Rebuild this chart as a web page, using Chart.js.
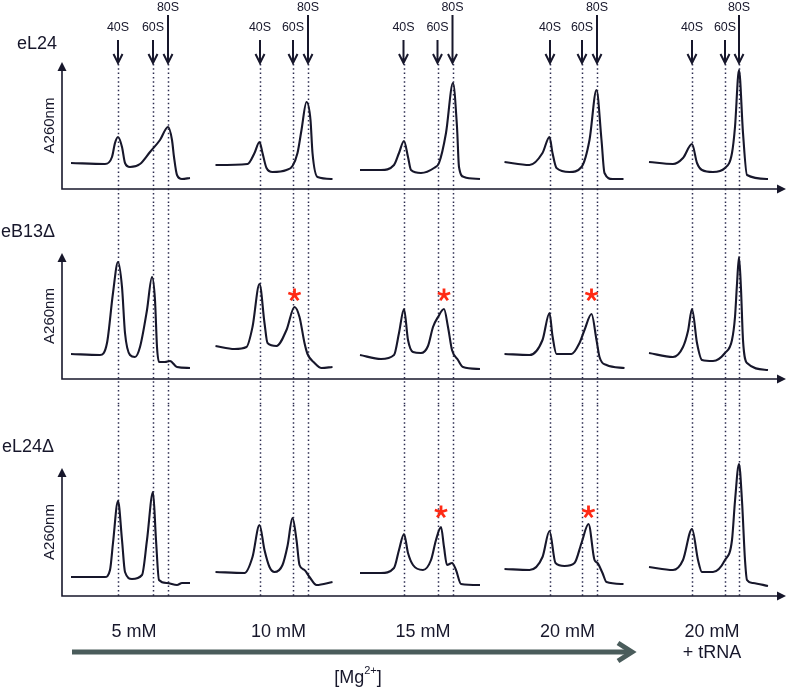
<!DOCTYPE html>
<html>
<head>
<meta charset="utf-8">
<script src="https://cdn.jsdelivr.net/npm/chart.js@4"></script>
<style>
  body { margin: 0; background: #fff; width: 787px; height: 689px; position: relative; overflow: hidden; }
  canvas { position: absolute; left: 0; }
</style>
</head>
<body>
<canvas id="row0" width="787" height="205" style="top:0"></canvas>
<canvas id="row1" width="787" height="200" style="top:205px"></canvas>
<canvas id="row2" width="787" height="284" style="top:405px"></canvas>
<script>
// strains (rows) and Mg conditions (columns)
const strains = ['eL24', 'eB13Δ', 'eL24Δ'];
const conditions = ['5 mM', '10 mM', '15 mM', '20 mM', '20 mM|+ tRNA'];
const subunits = ['40S', '60S', '80S'];

// peak positions in each gradient (position along the gradient)
const pos40S = [47, 44.5, 43.5, 45.5, 43];
const pos60S = [82, 77.5, 77.5, 77.5, 76];
const pos80S = [97, 92.5, 92.5, 92.5, 90];

// A260 profiles: [position, absorbance]
const eL24_5 = [[0,26],[34,25],[41,32],[44,46],[47,52],[51,42],[54,26],[59,22],[69,25],[79,37],[89,49],[97,62],[101,49],[103,32],[106,14],[111,10],[119,11]];
const eL24_10 = [[0,24],[32,25],[39,36],[44,47],[47,36],[51,21],[57,17],[71,19],[77,23],[82,36],[86,59],[91,87],[95,69],[97,36],[102,12],[117,10]];
const eL24_15 = [[0,19],[21,19],[34,24],[39,36],[44,48],[48,32],[51,19],[61,16],[74,21],[79,26],[86,56],[93,106],[97,62],[99,22],[104,12],[120,10]];
const eL24_20 = [[0,27],[25,24],[38,36],[45,52],[48,36],[52,21],[65,17],[77,22],[85,49],[92,99],[97,49],[100,16],[108,10],[119,10]];
const eL24_tRNA = [[0,27],[24,25],[34,31],[43,45],[48,26],[53,19],[64,17],[76,21],[83,36],[86,62],[90,119],[94,56],[98,14],[119,10]];

const eB13d_5 = [[0,25],[29,24],[36,36],[42,86],[47,117],[51,92],[54,46],[59,24],[64,22],[69,32],[76,69],[81,102],[84,79],[86,32],[88,17],[94,17],[99,18],[106,12],[119,11]];
const eB13d_10 = [[0,33],[19,30],[31,32],[37,52],[44,95],[49,56],[52,36],[61,33],[71,49],[79,72],[84,62],[89,36],[92,25],[99,16],[106,11],[117,12]];
const eB13d_15 = [[0,24],[21,20],[34,24],[39,46],[44,70],[48,39],[53,27],[61,26],[68,33],[73,52],[78,62],[84,70],[88,52],[92,29],[98,19],[103,12],[120,10]];
const eB13d_20 = [[0,25],[25,24],[38,39],[45,66],[48,43],[52,25],[67,25],[75,36],[80,49],[87,65],[92,39],[95,22],[102,14],[120,11]];
const eB13d_tRNA = [[0,26],[24,22],[34,32],[39,48],[43,70],[48,36],[53,19],[64,18],[76,26],[83,39],[86,62],[88,95],[90,122],[92,90],[94,39],[98,16],[119,9]];

const eL24d_5 = [[0,19],[34,19],[39,26],[42,53],[47,95],[51,56],[54,24],[61,17],[71,21],[76,56],[82,104],[85,56],[88,16],[96,13],[106,11],[111,13],[119,13]];
const eL24d_10 = [[0,24],[29,23],[37,39],[44,71],[49,46],[54,29],[59,24],[67,31],[72,50],[77,78],[81,56],[84,31],[89,26],[94,19],[101,11],[117,14]];
const eL24d_15 = [[0,23],[21,23],[34,28],[39,46],[44,62],[48,43],[53,31],[63,26],[71,36],[76,56],[81,69],[84,49],[87,31],[92,33],[96,26],[101,12],[120,11]];
const eL24d_20 = [[0,27],[25,26],[38,39],[45,65],[51,33],[60,30],[70,33],[77,53],[84,72],[90,36],[93,33],[98,23],[102,14],[119,12]];
const eL24d_tRNA = [[0,29],[24,26],[34,36],[43,67],[49,36],[53,24],[64,24],[76,36],[83,56],[86,95],[90,132],[93,95],[96,36],[98,16],[104,13],[119,10]];

const profiles = [
  [eL24_5, eL24_10, eL24_15, eL24_20, eL24_tRNA],
  [eB13d_5, eB13d_10, eB13d_15, eB13d_20, eB13d_tRNA],
  [eL24d_5, eL24d_10, eL24d_15, eL24d_20, eL24d_tRNA]
];
// columns where the 60S/80S peak is marked with an asterisk
const starred = [[], [1, 2, 3], [2, 3]];

// layout
const PANEL = 144.5, OFFSET = 9;
const rowLayout = [
  { top: 62, bottom: 16, height: 127, title: 49, titleX: 17 },
  { top: 48, bottom: 26, height: 126, title: 32, titleX: 1 },
  { top: 63, bottom: 93, height: 128, title: 47, titleX: 2 }
];
const INK = '#17172b';
const FONT = '"Liberation Sans", Arial, sans-serif';

function gx(col, x) { return OFFSET + col * PANEL + x; }

function drawStar(ctx, x, y) {
  ctx.save();
  ctx.strokeStyle = '#ff2a14';
  ctx.lineWidth = 2.8;
  ctx.beginPath();
  for (let k = 0; k < 5; k++) {
    const a = -Math.PI / 2 + k * 2 * Math.PI / 5;
    ctx.moveTo(x, y);
    ctx.lineTo(x + 6.5 * Math.cos(a), y + 6.5 * Math.sin(a));
  }
  ctx.stroke();
  ctx.restore();
}

// highest point after the 40S peak
function secondPeak(r, c) {
  return profiles[r][c].filter(p => p[0] > pos40S[c] + 10).reduce((m, p) => (p[1] > m[1] ? p : m));
}

const decor = {
  id: 'decor',
  beforeDatasetsDraw(chart, args, opts) {
    const { ctx, chartArea: a, scales: { x } } = chart;
    const r = opts.row;
    // dotted guide lines at 40S / 60S / 80S
    ctx.save();
    ctx.strokeStyle = '#2c2c50';
    ctx.lineWidth = 1.5;
    ctx.setLineDash([1.5, 2.8]);
    const y0 = r === 0 ? a.top + 2 : 0;
    const y1 = r === 2 ? a.bottom : chart.height;
    [pos40S, pos60S, pos80S].forEach(pos => pos.forEach((p, c) => {
      const xp = Math.round(x.getPixelForValue(gx(c, p))) + 0.5;
      ctx.beginPath(); ctx.moveTo(xp, y0); ctx.lineTo(xp, y1); ctx.stroke();
    }));
    ctx.restore();

    // axes with arrow heads
    ctx.save();
    ctx.strokeStyle = INK; ctx.fillStyle = INK; ctx.lineWidth = 1.6;
    ctx.beginPath();
    ctx.moveTo(a.left, a.top + 6); ctx.lineTo(a.left, a.bottom); ctx.lineTo(a.right - 6, a.bottom);
    ctx.stroke();
    ctx.beginPath();
    ctx.moveTo(a.left, a.top); ctx.lineTo(a.left - 4.5, a.top + 9); ctx.lineTo(a.left + 4.5, a.top + 9); ctx.closePath();
    ctx.fill();
    ctx.beginPath();
    ctx.moveTo(a.right, a.bottom); ctx.lineTo(a.right - 9, a.bottom - 4.5); ctx.lineTo(a.right - 9, a.bottom + 4.5); ctx.closePath();
    ctx.fill();

    // y axis label and row title
    ctx.font = '15px ' + FONT;
    ctx.textAlign = 'center'; ctx.textBaseline = 'middle';
    ctx.save();
    ctx.translate(50, (a.top + a.bottom) / 2);
    ctx.rotate(-Math.PI / 2);
    ctx.fillText('A260nm', 0, 0);
    ctx.restore();
    ctx.font = '18px ' + FONT;
    ctx.textAlign = 'left'; ctx.textBaseline = 'alphabetic';
    ctx.fillText(strains[r], rowLayout[r].titleX, rowLayout[r].title);
    ctx.restore();
  },
  afterDatasetsDraw(chart, args, opts) {
    const { ctx, scales: { x, y } } = chart;
    const r = opts.row;
    // asterisks above the shifted peaks, on one level per row
    if (starred[r].length) {
      const top = Math.max(...starred[r].map(c => secondPeak(r, c)[1]));
      starred[r].forEach(c => {
        const peak = secondPeak(r, c);
        drawStar(ctx, x.getPixelForValue(gx(c, peak[0])), y.getPixelForValue(top) - 12);
      });
    }

    if (r === 0) {
      // subunit arrows and labels
      ctx.save();
      ctx.strokeStyle = INK; ctx.fillStyle = INK; ctx.lineWidth = 2;
      ctx.font = '12.5px ' + FONT;
      ctx.textAlign = 'center'; ctx.textBaseline = 'alphabetic';
      [pos40S, pos60S, pos80S].forEach((pos, s) => pos.forEach((p, c) => {
        const xp = x.getPixelForValue(gx(c, p));
        const yTop = s === 2 ? 15 : 40;
        ctx.beginPath();
        ctx.moveTo(xp, yTop); ctx.lineTo(xp, 62);
        ctx.moveTo(xp - 4.5, 54); ctx.lineTo(xp, 63); ctx.lineTo(xp + 4.5, 54);
        ctx.stroke();
        ctx.fillText(subunits[s], xp, s === 2 ? 11 : 31);
      }));
      ctx.restore();
    }

    if (r === 2) {
      // condition labels
      ctx.save();
      ctx.fillStyle = INK;
      ctx.font = '18px ' + FONT;
      ctx.textAlign = 'center'; ctx.textBaseline = 'alphabetic';
      conditions.forEach((c, i) => {
        const xp = x.getPixelForValue(gx(i, 63));
        c.split('|').forEach((line, k) => ctx.fillText(line, xp, 232 + k * 21));
      });
      // [Mg2+] arrow
      ctx.strokeStyle = '#4a5c5b'; ctx.lineWidth = 5;
      ctx.beginPath(); ctx.moveTo(72, 247); ctx.lineTo(631, 247); ctx.stroke();
      ctx.beginPath(); ctx.moveTo(618, 238); ctx.lineTo(632, 247); ctx.lineTo(618, 256); ctx.stroke();
      // [Mg2+]
      ctx.textAlign = 'left';
      const big = '18px ' + FONT, small = '11px ' + FONT;
      ctx.font = big; const w1 = ctx.measureText('[Mg').width; const w3 = ctx.measureText(']').width;
      ctx.font = small; const w2 = ctx.measureText('2+').width;
      let xs = 358 - (w1 + w2 + w3) / 2;
      ctx.font = big; ctx.fillText('[Mg', xs, 278); xs += w1;
      ctx.font = small; ctx.fillText('2+', xs, 269); xs += w2;
      ctx.font = big; ctx.fillText(']', xs, 278);
      ctx.restore();
    }
  }
};

strains.forEach((name, r) => {
  const L = rowLayout[r];
  const datasets = profiles[r].map((prof, c) => ({
    label: name + ' ' + conditions[c],
    data: prof.map(([px, v]) => ({ x: gx(c, px), y: v })),
    borderColor: INK,
    borderWidth: 2.1,
    pointRadius: 0,
    fill: false,
    cubicInterpolationMode: 'monotone',
    clip: false
  }));
  new Chart(document.getElementById('row' + r), {
    type: 'line',
    data: { datasets },
    options: {
      responsive: false,
      animation: false,
      devicePixelRatio: 1,
      layout: { padding: { left: 62, right: 1, top: L.top, bottom: L.bottom } },
      scales: {
        x: { type: 'linear', min: 0, max: 724, display: false },
        y: { min: 0, max: L.height, display: false }
      },
      plugins: { legend: { display: false }, tooltip: { enabled: false }, decor: { row: r } }
    },
    plugins: [decor]
  });
});
</script>
</body>
</html>
